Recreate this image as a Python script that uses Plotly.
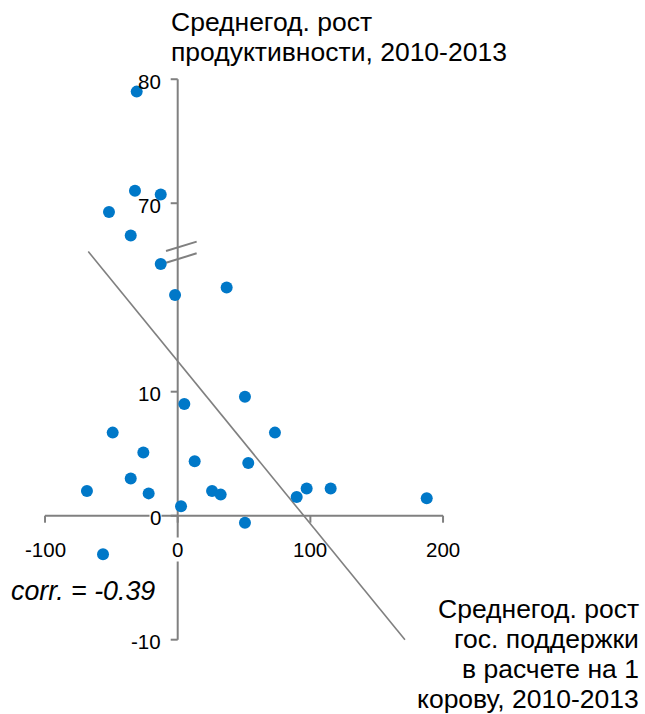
import plotly.graph_objects as go

# ---- data ----
support_growth = [-30.9, -32.2, -12.8, -51.8, -35.4, -12.8, -2.0, 36.9,
                  5.0, 50.7, -49.0, -25.9, 12.8, 53.2, -35.4, -68.4, -21.9,
                  25.9, 32.4, 2.5, 50.7, -56.3, 73.3, 97.2, 115.3, 89.7, 187.7]
productivity_growth = [79.0, 71.0, 70.7, 69.3, 67.4, 20.3, 17.8, 18.4,
                       9.0, 9.6, 6.7, 5.1, 4.4, 4.25, 3.0, 2.0, 1.8,
                       2.0, 1.7, 0.76, -0.56, -3.1, 6.7, 2.2, 2.2, 1.5, 1.4]
trend_x = [-67.4, 171.3]
trend_y = [21.3, -10.0]
x_ticks = [-100, 0, 100, 200]
y_ticks = [-10, 0, 10, 70, 80]
corr_text = "corr. = -0.39"
y_title = ["Среднегод. рост", "продуктивности, 2010-2013"]
x_title = ["Среднегод. рост", "гос. поддержки", "в расчете на 1", "корову, 2010-2013"]

# broken y axis: values above the break are shifted down
BREAK_VALUE = 40
BREAK_SHIFT = 44.8
BREAK_AT = 21.25


def to_disp(v):
    return v - BREAK_SHIFT if v > BREAK_VALUE else v


FONT = "Liberation Sans, Arial, sans-serif"
AX = "#808080"
W, H = 645, 714
px_x, px_y = 1.3267, 12.4
XR = [-177.7 / px_x, 0]
XR[1] = XR[0] + W / px_x
YR = [0, 515.7 / px_y]
YR[0] = YR[1] - H / px_y


def px(xp):
    return xp / W


def py(yp):
    return 1 - yp / H


fig = go.Figure()
fig.add_trace(go.Scatter(x=trend_x, y=[to_disp(v) for v in trend_y], mode="lines",
                         line=dict(color=AX, width=1.6), hoverinfo="skip"))
fig.add_trace(go.Scatter(x=support_growth, y=[to_disp(v) for v in productivity_growth],
                         mode="markers", marker=dict(color="#0078C8", size=12)))

shapes = []
ymin, ymax = to_disp(min(y_ticks)), to_disp(max(y_ticks))
shapes.append(dict(type="line", x0=0, x1=0, y0=ymin, y1=ymax, line=dict(color=AX, width=2)))
shapes.append(dict(type="line", x0=min(x_ticks), x1=max(x_ticks), y0=0, y1=0,
                   line=dict(color=AX, width=2)))
tl = 7
for v in y_ticks:
    d = to_disp(v)
    shapes.append(dict(type="line", x0=-tl / px_x, x1=0, y0=d, y1=d, line=dict(color=AX, width=2)))
for v in x_ticks:
    shapes.append(dict(type="line", x0=v, x1=v, y0=0, y1=-tl / px_y, line=dict(color=AX, width=2)))
for off in (-0.47, 0.47):
    shapes.append(dict(type="line", x0=-8.8, x1=14.3,
                       y0=BREAK_AT + off - 0.38, y1=BREAK_AT + off + 0.38,
                       line=dict(color=AX, width=2)))
for s in shapes:
    s["layer"] = "below"
    s["xref"] = "x"
    s["yref"] = "y"

ann = []
for v in y_ticks:
    ann.append(dict(x=0, y=to_disp(v), text=str(v), showarrow=False, xanchor="right",
                    yanchor="middle", xshift=-16, yshift=-2,
                    bgcolor="white" if v == 0 else "rgba(0,0,0,0)", borderpad=0,
                    font=dict(family=FONT, size=20.5, color="black")))
for v in x_ticks:
    ann.append(dict(x=v, y=0, text=str(v), showarrow=False, xanchor="center",
                    yanchor="middle", yshift=-34,
                    bgcolor="white" if v == 0 else "rgba(0,0,0,0)", borderpad=0,
                    font=dict(family=FONT, size=20.5, color="black")))
for i, t in enumerate(y_title):
    ann.append(dict(x=px(169), y=py(22 + 30 * i), xref="paper", yref="paper", text=t,
                    showarrow=False, xanchor="left", yanchor="middle",
                    font=dict(family=FONT, size=26.5, color="black")))
for i, t in enumerate(x_title):
    ann.append(dict(x=px(641), y=py(609 + 30 * i), xref="paper", yref="paper", text=t,
                    showarrow=False, xanchor="right", yanchor="middle",
                    font=dict(family=FONT, size=26.5, color="black")))
ann.append(dict(x=px(9), y=py(591), xref="paper", yref="paper", text="<i>" + corr_text + "</i>",
                showarrow=False, xanchor="left", yanchor="middle",
                font=dict(family=FONT, size=26.8, color="black")))

fig.update_layout(
    width=W, height=H, margin=dict(l=0, r=0, t=0, b=0),
    paper_bgcolor="white", plot_bgcolor="white", showlegend=False,
    xaxis=dict(range=XR, visible=False, fixedrange=True),
    yaxis=dict(range=YR, visible=False, fixedrange=True),
    shapes=shapes, annotations=ann,
)
fig.write_html("out.html", config={"displayModeBar": False},
               post_script="document.body.style.margin='0';document.body.style.overflow='hidden';")
